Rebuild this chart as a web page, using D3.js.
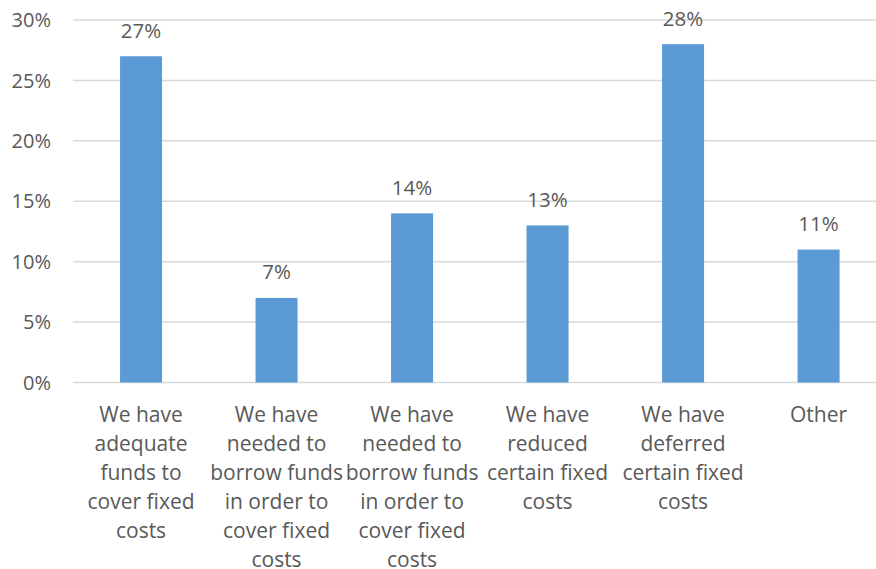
<!DOCTYPE html>
<html>
<head>
<meta charset="utf-8">
<script src="https://cdn.jsdelivr.net/npm/d3@7"></script>
<style>
  html, body { margin: 0; padding: 0; background: #fff; }
  svg { display: block; }
  text { font-family: "Open Sans", sans-serif; fill: #595959; }
</style>
</head>
<body>
<svg id="chart" width="876" height="569"></svg>
<script>
const categories = [
  ["We have", "adequate", "funds to", "cover fixed", "costs"],
  ["We have", "needed to", "borrow funds", "in order to", "cover fixed", "costs"],
  ["We have", "needed to", "borrow funds", "in order to", "cover fixed", "costs"],
  ["We have", "reduced", "certain fixed", "costs"],
  ["We have", "deferred", "certain fixed", "costs"],
  ["Other"]
];
const values = [27, 7, 14, 13, 28, 11];
const yTicks = [0, 5, 10, 15, 20, 25, 30];

const svg = d3.select("#chart");
const x = d3.scaleBand().domain(d3.range(categories.length)).range([73.3, 886.3]).paddingInner(0.69).paddingOuter(0.345);
const y = d3.scaleLinear().domain([0, 30]).range([382.5, 20]);

// gridlines
svg.append("g").selectAll("line").data(yTicks).join("line")
  .attr("x1", 73).attr("x2", 876)
  .attr("y1", d => y(d)).attr("y2", d => y(d))
  .attr("stroke", "#d9d9d9").attr("stroke-width", 1.5);

// y tick labels
svg.append("g").selectAll("text").data(yTicks).join("text")
  .attr("x", 51).attr("y", d => y(d)).attr("dy", "0.36em")
  .attr("text-anchor", "end").attr("font-size", 20)
  .text(d => d + "%");

// bars
svg.append("g").selectAll("rect").data(values).join("rect")
  .attr("x", (d, i) => x(i)).attr("width", x.bandwidth())
  .attr("y", d => y(d)).attr("height", d => y(0) - y(d))
  .attr("fill", "#5b9bd5");

// data labels
svg.append("g").selectAll("text").data(values).join("text")
  .attr("x", (d, i) => x(i) + x.bandwidth() / 2)
  .attr("y", d => y(d) - 18.5)
  .attr("text-anchor", "middle").attr("font-size", 20.5)
  .text(d => d + "%");

// category labels
const cat = svg.append("g").selectAll("text").data(categories).join("text")
  .attr("text-anchor", "middle").attr("font-size", 21)
  .attr("x", (d, i) => x(i) + x.bandwidth() / 2)
  .attr("y", 421.5);
cat.selectAll("tspan").data(d => d).join("tspan")
  .attr("x", function() { return d3.select(this.parentNode).attr("x"); })
  .attr("y", (d, j) => 421.5 + j * 29)
  .text(d => d);
</script>
</body>
</html>
